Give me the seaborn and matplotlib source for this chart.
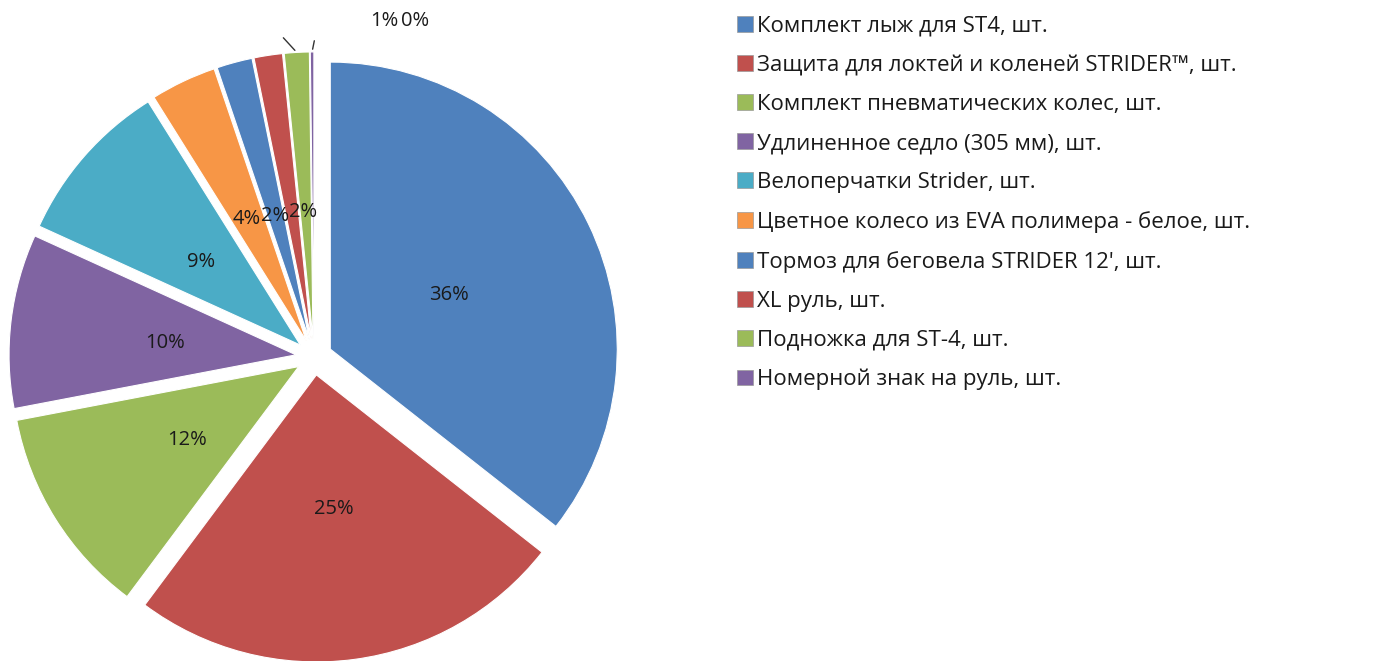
import matplotlib
matplotlib.use("Agg")
import matplotlib.pyplot as plt
import seaborn as sns
import numpy as np
from matplotlib.patches import Patch

categories = [
    "Комплект лыж для ST4, шт.",
    "Защита для локтей и коленей STRIDER™, шт.",
    "Комплект пневматических колес, шт.",
    "Удлиненное седло (305 мм), шт.",
    "Велоперчатки Strider, шт.",
    "Цветное колесо из EVA полимера - белое, шт.",
    "Тормоз для беговела STRIDER 12', шт.",
    "XL руль, шт.",
    "Подножка для ST-4, шт.",
    "Номерной знак на руль, шт.",
]
values = [35.6, 24.6, 11.8, 9.8, 9.3, 3.7, 2.0, 1.6, 1.4, 0.2]
colors = ["#4F81BD", "#C0504D", "#9BBB59", "#8064A2", "#4BACC6",
          "#F79646", "#4F81BD", "#C0504D", "#9BBB59", "#8064A2"]

sns.set_theme(style="white")
plt.rcParams["font.family"] = ["Open Sans", "DejaVu Sans"]

W, H = 1387, 661
fig = plt.figure(figsize=(W / 100, H / 100), dpi=100)

cx, cy, r = 314, 357, 287
lim = 1.3
half = lim * r
ax = fig.add_axes([(cx - half) / W, (H - cy - half) / H, 2 * half / W, 2 * half / H])

explode = [0.063] * len(values)
wedges, texts, autotexts = ax.pie(
    values, colors=colors, explode=explode, startangle=90, counterclock=False,
    autopct="%1.0f%%", pctdistance=0.46,
    wedgeprops=dict(edgecolor="white", linewidth=0.8),
    textprops=dict(fontsize=14.5, color="#1a1a1a"),
)
ax.set_xlim(-lim, lim)
ax.set_ylim(-lim, lim)
ax.set_aspect("equal")
ax.axis("off")

# nudge crowded labels so they sit side by side
shifts = {5: (-0.012, 0.02), 6: (0.0, 0.0), 7: (0.04, 0.0)}
for i in range(len(autotexts)):
    x, y = autotexts[i].get_position()
    dx, dy = shifts.get(i, (0.0, 0.0))
    autotexts[i].set_position((x + dx, y - 0.012 + dy))

# small slices: labels outside with leader lines
outside = {8: (0.245, 1.17), 9: (0.352, 1.17)}
leader_off = {8: (-11, 12), 9: (2, 10)}
for i, pos in outside.items():
    w = wedges[i]
    ang = np.deg2rad((w.theta1 + w.theta2) / 2)
    ex = explode[i]
    px = (1 + ex) * np.cos(ang)
    py = (1 + ex) * np.sin(ang)
    ax.annotate("", xy=(px, py), xytext=leader_off[i], textcoords="offset points",
                arrowprops=dict(arrowstyle="-", color="#333333", lw=1))
    autotexts[i].set_position(pos)

handles = [Patch(facecolor=c, edgecolor="#9a9a9a", linewidth=0.5) for c in colors]
leg = fig.legend(handles, categories, loc="upper left",
                 bbox_to_anchor=(737 / W, 1 - 16 / H), frameon=False,
                 fontsize=16, handlelength=0.72, handleheight=0.72,
                 handletextpad=0.2, labelspacing=0.81, borderaxespad=0,
                 borderpad=0)
for t in leg.get_texts():
    t.set_color("#1a1a1a")

fig.savefig("out.png", dpi=100)
